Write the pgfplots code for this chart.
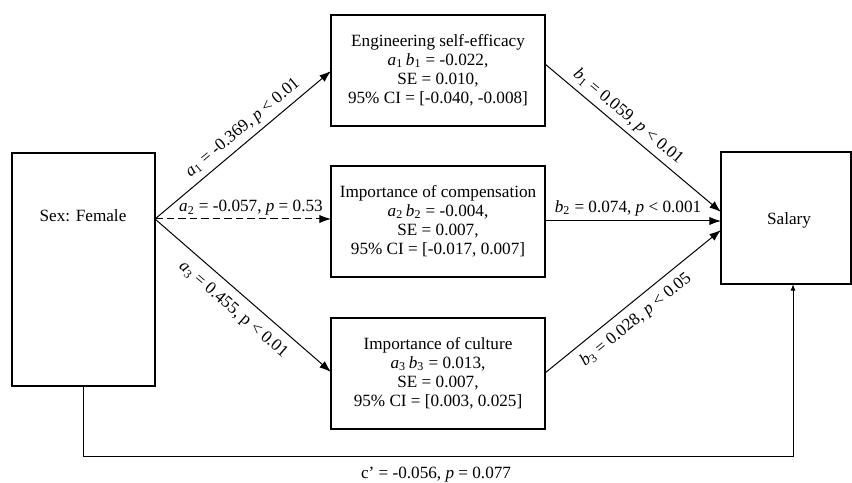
\documentclass[border=0pt]{standalone}
\usepackage{fontspec}
\setmainfont{Liberation Serif}
\usepackage{pgfplots}
\pgfplotsset{compat=1.18}
\usetikzlibrary{arrows.meta}

\newcommand{\vs}[2]{\textit{#1}\textsubscript{#2}}

\begin{document}
\begin{tikzpicture}[
    box/.style={line width=1.2pt, line join=miter},
    tip/.style={-{Latex[length=7pt,width=5pt]}},
    lbl/.style={inner sep=0pt, font=\fontsize{10.3}{12}\selectfont},
    boxtxt/.style={inner sep=0pt, align=center, font=\fontsize{10.3}{11.4}\selectfont},
]
\begin{axis}[
    hide axis,
    scale only axis,
    width=511.2pt, height=289.8pt,
    xmin=0, xmax=852, ymin=0, ymax=483,
    y dir=reverse,
    clip=false,
    every axis plot/.append style={black, no markers, line width=0.6pt},
]
\path (axis cs:0,0) (axis cs:852,483);

% boxes (each starts mid-edge so every corner is joined)
\addplot[box] coordinates {(83,153) (155,153) (155,386) (12,386) (12,153) (83,153)};
\addplot[box] coordinates {(438,15) (545,15) (545,126) (331,126) (331,15) (438,15)};
\addplot[box] coordinates {(438,166) (545,166) (545,277) (331,277) (331,166) (438,166)};
\addplot[box] coordinates {(438,318) (545,318) (545,429) (331,429) (331,318) (438,318)};
\addplot[box] coordinates {(786,152) (851,152) (851,284) (721,284) (721,152) (786,152)};

% paths a
\addplot[tip] coordinates {(155,219) (331,71)};
\addplot[tip, dash pattern=on 4.5pt off 2.4pt] coordinates {(155,219) (331,219)};
\addplot[tip] coordinates {(155,219) (331,372)};
% paths b
\addplot[tip] coordinates {(545,64) (721,212)};
\addplot[tip] coordinates {(545,221) (721,221)};
\addplot[tip] coordinates {(545,373) (721,230)};
% direct path c'
\addplot[-{Latex[length=4pt,width=3pt]}] coordinates {(83,386) (83,456) (793,456) (793,284)};

% box texts
\node[boxtxt] at (axis cs:83,216) {Sex: Female};
\node[boxtxt] at (axis cs:789,220) {Salary};
\node[boxtxt] at (axis cs:438,70) {Engineering self-efficacy\\ \vs{a}{1}\,\vs{b}{1} = -0.022,\\ SE = 0.010,\\ 95\% CI = [-0.040, -0.008]};
\node[boxtxt] at (axis cs:438,221) {Importance of compensation\\ \vs{a}{2}\,\vs{b}{2} = -0.004,\\ SE = 0.007,\\ 95\% CI = [-0.017, 0.007]};
\node[boxtxt] at (axis cs:438,373) {Importance of culture\\ \vs{a}{3}\,\vs{b}{3} = 0.013,\\ SE = 0.007,\\ 95\% CI = [0.003, 0.025]};

% path labels
\node[lbl, rotate=40] at (axis cs:243,128) {\vs{a}{1} = -0.369, \textit{p} < 0.01};
\node[lbl] at (axis cs:251,208) {\vs{a}{2} = -0.057, \textit{p} = 0.53};
\node[lbl, rotate=-40.8] at (axis cs:233,310) {\vs{a}{3} = 0.455, p < 0.01};
\node[lbl, rotate=-40] at (axis cs:628,117) {\vs{b}{1} = 0.059, \textit{p} < 0.01};
\node[lbl] at (axis cs:628,208) {\vs{b}{2} = 0.074, \textit{p} < 0.001};
\node[lbl, rotate=39.1] at (axis cs:636,320) {\vs{b}{3} = 0.028, \textit{p} < 0.05};
\node[lbl] at (axis cs:436,475) {c’ = -0.056, \textit{p} = 0.077};
\end{axis}
\end{tikzpicture}
\end{document}
